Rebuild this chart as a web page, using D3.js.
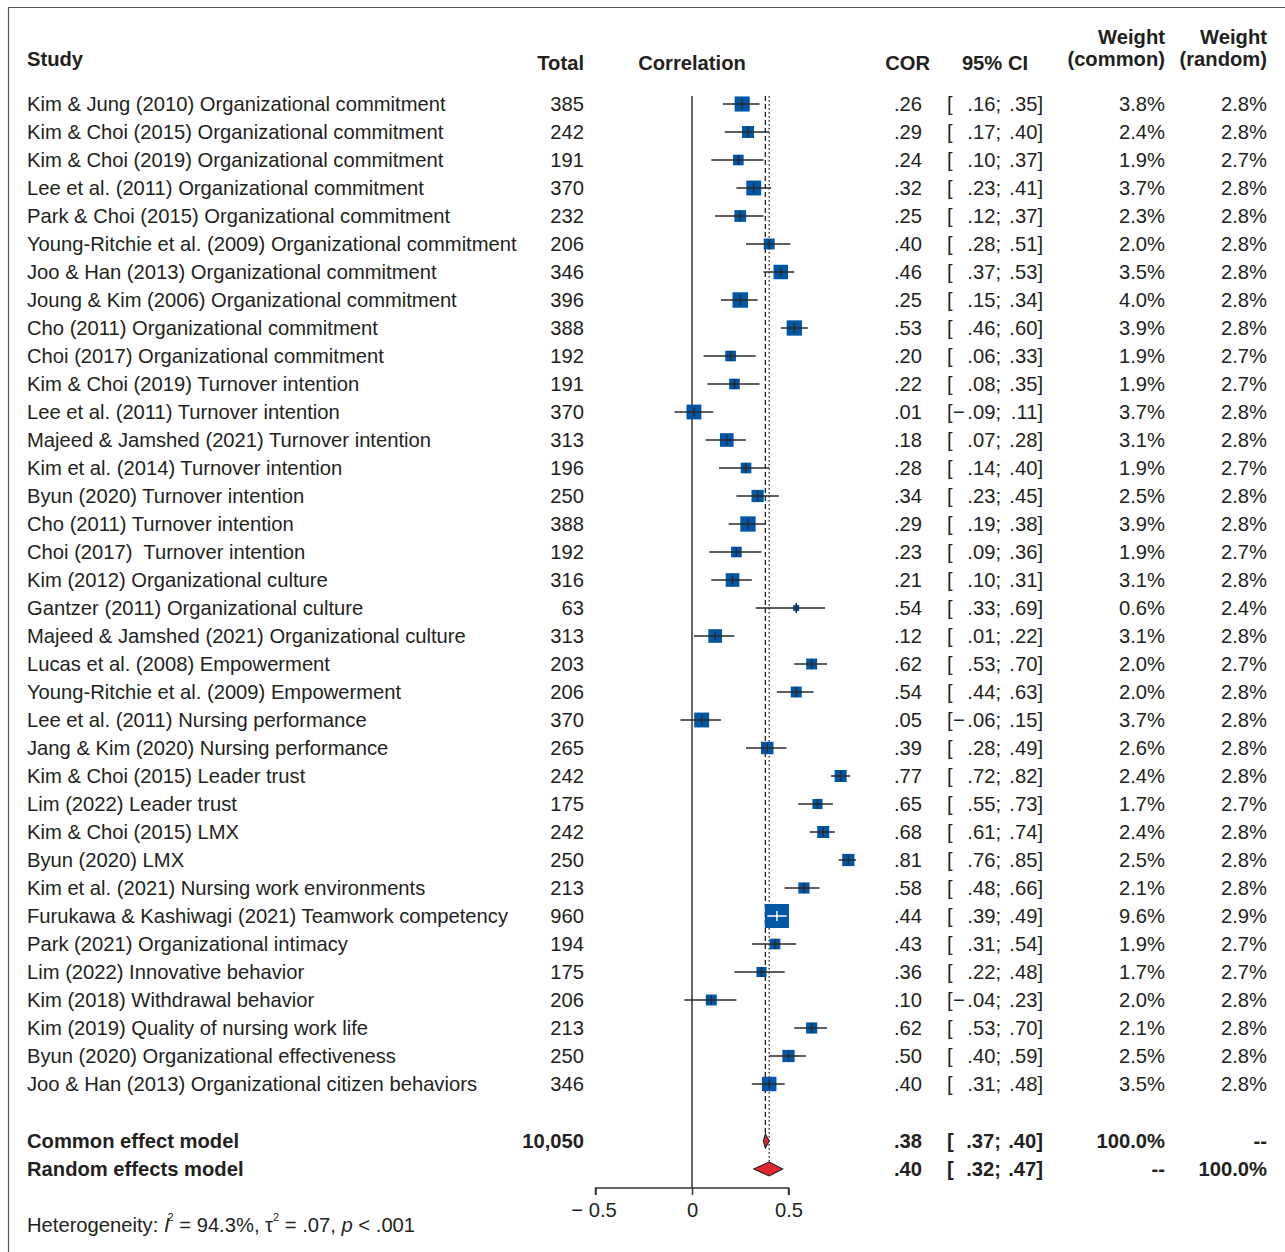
<!DOCTYPE html>
<html>
<head>
<meta charset="utf-8">
<script src="https://cdn.jsdelivr.net/npm/d3@7"></script>
<style>
  html, body { margin: 0; padding: 0; background: #fff; }
  svg { display: block; }
  text { font-family: "Liberation Sans", Arial, Helvetica, sans-serif; fill: #231f20; }
</style>
</head>
<body>
<svg id="chart" width="1285" height="1252"></svg>
<script>
// Study-level correlations (meta-analysis forest plot)
const studies = [
  "Kim & Jung (2010) Organizational commitment",
  "Kim & Choi (2015) Organizational commitment",
  "Kim & Choi (2019) Organizational commitment",
  "Lee et al. (2011) Organizational commitment",
  "Park & Choi (2015) Organizational commitment",
  "Young-Ritchie et al. (2009) Organizational commitment",
  "Joo & Han (2013) Organizational commitment",
  "Joung & Kim (2006) Organizational commitment",
  "Cho (2011) Organizational commitment",
  "Choi (2017) Organizational commitment",
  "Kim & Choi (2019) Turnover intention",
  "Lee et al. (2011) Turnover intention",
  "Majeed & Jamshed (2021) Turnover intention",
  "Kim et al. (2014) Turnover intention",
  "Byun (2020) Turnover intention",
  "Cho (2011) Turnover intention",
  "Choi (2017)\u00a0 Turnover intention",
  "Kim (2012) Organizational culture",
  "Gantzer (2011) Organizational culture",
  "Majeed & Jamshed (2021) Organizational culture",
  "Lucas et al. (2008) Empowerment",
  "Young-Ritchie et al. (2009) Empowerment",
  "Lee et al. (2011) Nursing performance",
  "Jang & Kim (2020) Nursing performance",
  "Kim & Choi (2015) Leader trust",
  "Lim (2022) Leader trust",
  "Kim & Choi (2015) LMX",
  "Byun (2020) LMX",
  "Kim et al. (2021) Nursing work environments",
  "Furukawa & Kashiwagi (2021) Teamwork competency",
  "Park (2021) Organizational intimacy",
  "Lim (2022) Innovative behavior",
  "Kim (2018) Withdrawal behavior",
  "Kim (2019) Quality of nursing work life",
  "Byun (2020) Organizational effectiveness",
  "Joo & Han (2013) Organizational citizen behaviors"
];
const totals = [385, 242, 191, 370, 232, 206, 346, 396, 388, 192, 191, 370, 313, 196, 250, 388, 192,
  316, 63, 313, 203, 206, 370, 265, 242, 175, 242, 250, 213, 960, 194, 175, 206, 213, 250, 346];
const cor = [.26, .29, .24, .32, .25, .40, .46, .25, .53, .20, .22, .01, .18, .28, .34, .29, .23,
  .21, .54, .12, .62, .54, .05, .39, .77, .65, .68, .81, .58, .44, .43, .36, .10, .62, .50, .40];
const ciLower = [.16, .17, .10, .23, .12, .28, .37, .15, .46, .06, .08, -.09, .07, .14, .23, .19, .09,
  .10, .33, .01, .53, .44, -.06, .28, .72, .55, .61, .76, .48, .39, .31, .22, -.04, .53, .40, .31];
const ciUpper = [.35, .40, .37, .41, .37, .51, .53, .34, .60, .33, .35, .11, .28, .40, .45, .38, .36,
  .31, .69, .22, .70, .63, .15, .49, .82, .73, .74, .85, .66, .49, .54, .48, .23, .70, .59, .48];
const weightCommon = [3.8, 2.4, 1.9, 3.7, 2.3, 2.0, 3.5, 4.0, 3.9, 1.9, 1.9, 3.7, 3.1, 1.9, 2.5, 3.9, 1.9,
  3.1, 0.6, 3.1, 2.0, 2.0, 3.7, 2.6, 2.4, 1.7, 2.4, 2.5, 2.1, 9.6, 1.9, 1.7, 2.0, 2.1, 2.5, 3.5];
const weightRandom = [2.8, 2.8, 2.7, 2.8, 2.8, 2.8, 2.8, 2.8, 2.8, 2.7, 2.7, 2.8, 2.8, 2.7, 2.8, 2.8, 2.7,
  2.8, 2.4, 2.8, 2.7, 2.8, 2.8, 2.8, 2.8, 2.7, 2.8, 2.8, 2.8, 2.9, 2.7, 2.7, 2.8, 2.8, 2.8, 2.8];

// Pooled estimates
const models = ["Common effect model", "Random effects model"];
const modelTotal = ["10,050", ""];
const modelCor = [.38, .40];
const modelLower = [.37, .32];
const modelUpper = [.40, .47];
const modelWeightCommon = ["100.0%", "--"];
const modelWeightRandom = ["--", "100.0%"];

const axisTicks = [-0.5, 0, 0.5];
const axisTickLabels = ["\u2212 0.5", "0", "0.5"];

const svg = d3.select("#chart");
const FS = 20.2;
const ink = "#231f20";

// frame
svg.append("path")
  .attr("d", "M8.5,1260 L8.5,7.5 L1290,7.5")
  .attr("fill", "none").attr("stroke", "#555").attr("stroke-width", 1.2);

const x = d3.scaleLinear().domain([-0.5, 0.5]).range([595.5, 788.5]);
const rowY = d3.scaleLinear().domain([0, 1]).range([104, 132]);
const sqSide = d3.scaleSqrt().domain([0, d3.max(weightCommon)]).range([0, 24]);
const yCommon = 1141, yRandom = 1169, yAxis = 1188;

const col = { study: 27, total: 584, cor: 922, bracket: 947, minus: 953, lower: 1001, upper: 1043, wc: 1165, wr: 1267 };

const fmt2 = v => d3.format(".2f")(Math.abs(v)).replace(/^0/, "");

// header
const hdr = svg.append("g").attr("font-weight", "bold").attr("font-size", FS);
const hText = (t, xx, yy, anchor) => hdr.append("text").attr("x", xx).attr("y", yy)
  .attr("text-anchor", anchor).attr("dominant-baseline", "central").text(t);
hText("Study", col.study, 59, "start");
hText("Total", col.total, 63, "end");
hText("Correlation", 692, 63, "middle");
hText("COR", 930, 63, "end");
hText("95% CI", 995, 63, "middle");
hText("Weight", col.wc, 37, "end");
hText("(common)", col.wc, 59, "end");
hText("Weight", col.wr, 37, "end");
hText("(random)", col.wr, 59, "end");

// reference lines
svg.append("line").attr("x1", x(0)).attr("x2", x(0)).attr("y1", 96).attr("y2", yAxis)
  .attr("stroke", "#333").attr("stroke-width", 1.5);
svg.append("line").attr("x1", x(modelCor[0])).attr("x2", x(modelCor[0])).attr("y1", 96).attr("y2", yCommon - 7)
  .attr("stroke", "#222").attr("stroke-width", 1.3).attr("stroke-dasharray", "5,3");
svg.append("line").attr("x1", x(modelCor[1])).attr("x2", x(modelCor[1])).attr("y1", 96).attr("y2", yRandom - 7)
  .attr("stroke", "#222").attr("stroke-width", 1.3).attr("stroke-dasharray", "1.5,2.5");

// study rows
const rows = svg.append("g").attr("font-size", FS);
studies.forEach((name, i) => {
  const y = rowY(i);
  const g = rows.append("g");
  const t = (s, xx, anchor) => g.append("text").attr("x", xx).attr("y", y)
    .attr("text-anchor", anchor).attr("dominant-baseline", "central").text(s);
  t(name, col.study, "start");
  t(totals[i], col.total, "end");
  t(fmt2(cor[i]), col.cor, "end");
  t("[", col.bracket, "start");
  if (ciLower[i] < 0) t("\u2212", col.minus, "start");
  t(fmt2(ciLower[i]) + ";", col.lower, "end");
  t(fmt2(ciUpper[i]) + "]", col.upper, "end");
  t(weightCommon[i].toFixed(1) + "%", col.wc, "end");
  t(weightRandom[i].toFixed(1) + "%", col.wr, "end");

  const s = sqSide(weightCommon[i]);
  const cx = x(cor[i]);
  g.append("rect").attr("x", cx - s / 2).attr("y", y - s / 2).attr("width", s).attr("height", s)
    .attr("fill", "#0057a8");
  const inside = x(ciLower[i]) >= cx - s / 2 && x(ciUpper[i]) <= cx + s / 2;
  const lc = inside ? "#fff" : "#2a2a2a";
  g.append("line").attr("x1", x(ciLower[i])).attr("x2", x(ciUpper[i])).attr("y1", y).attr("y2", y)
    .attr("stroke", lc).attr("stroke-width", 1.5);
  g.append("line").attr("x1", cx).attr("x2", cx).attr("y1", y - 5).attr("y2", y + 5)
    .attr("stroke", lc).attr("stroke-width", 1.5);
});

// pooled rows
const mrows = svg.append("g").attr("font-size", FS).attr("font-weight", "bold");
models.forEach((name, i) => {
  const y = i === 0 ? yCommon : yRandom;
  const t = (s, xx, anchor) => mrows.append("text").attr("x", xx).attr("y", y)
    .attr("text-anchor", anchor).attr("dominant-baseline", "central").text(s);
  t(name, col.study, "start");
  t(modelTotal[i], col.total, "end");
  t(fmt2(modelCor[i]), col.cor, "end");
  t("[", col.bracket, "start");
  t(fmt2(modelLower[i]) + ";", col.lower, "end");
  t(fmt2(modelUpper[i]) + "]", col.upper, "end");
  t(modelWeightCommon[i], col.wc, "end");
  t(modelWeightRandom[i], col.wr, "end");

  const h = 7;
  const pts = [[x(modelLower[i]), y], [x(modelCor[i]), y - h], [x(modelUpper[i]), y], [x(modelCor[i]), y + h]];
  svg.append("path").attr("d", d3.line()(pts) + "Z")
    .attr("fill", "#e3262d").attr("stroke", "#222").attr("stroke-width", 1.1);
});

// x axis
const axis = d3.axisBottom(x).tickValues(axisTicks).tickSize(7)
  .tickFormat((d, i) => axisTickLabels[i]);
const ax = svg.append("g").attr("transform", `translate(0,${yAxis})`).call(axis);
ax.select(".domain").attr("stroke", "#333").attr("stroke-width", 1.5).attr("d", `M${x(-0.5)},7V0H${x(0.5)}V7`);
ax.selectAll(".tick line").attr("stroke", "#333").attr("stroke-width", 1.5);
ax.selectAll(".tick text").attr("font-size", FS).attr("fill", ink)
  .attr("font-family", "'Liberation Sans', Arial, sans-serif").attr("dy", "0.5em").attr("y", 19);
ax.selectAll(".tick").filter(d => d < 0).select("text").attr("dx", "-0.1em");

// heterogeneity
const het = svg.append("text").attr("x", col.study).attr("y", 1232).attr("font-size", FS);
het.append("tspan").text("Heterogeneity: ");
het.append("tspan").attr("font-style", "italic").text("I");
het.append("tspan").attr("font-size", 11).attr("dy", -11).attr("dx", -2).text("2");
het.append("tspan").attr("dy", 11).text(" = 94.3%, \u03c4");
het.append("tspan").attr("font-size", 11).attr("dy", -11).text("2");
het.append("tspan").attr("dy", 11).text(" = .07, ");
het.append("tspan").attr("font-style", "italic").text("p");
het.append("tspan").text(" < .001");
</script>
</body>
</html>
